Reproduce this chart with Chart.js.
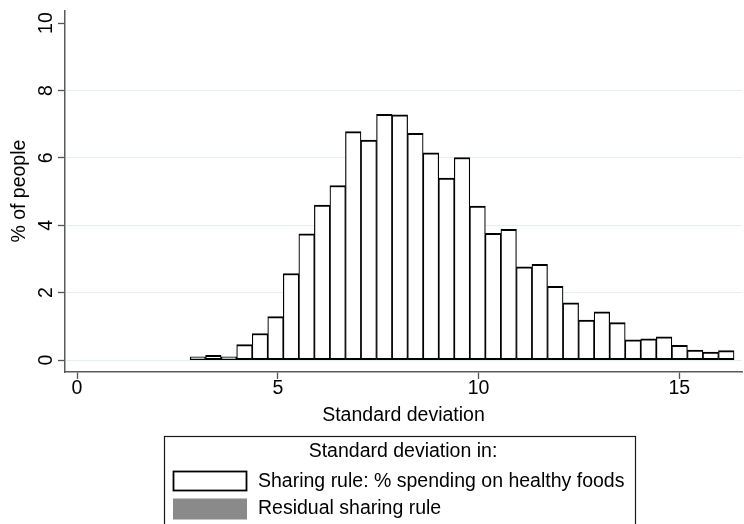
<!DOCTYPE html>
<html>
<head>
<meta charset="utf-8">
<script src="https://cdn.jsdelivr.net/npm/chart.js@4/dist/chart.umd.min.js"></script>
<style>
  html, body { margin: 0; padding: 0; background: #ffffff; }
  #chart { display: block; }
</style>
</head>
<body>
<canvas id="chart" width="744" height="524"></canvas>
<script>
// Histogram bins: centre of each bin (standard deviation)
const binCenters = [
  3.008, 3.395, 3.782, 4.169, 4.556, 4.943, 5.330, 5.717, 6.104, 6.491,
  6.878, 7.265, 7.652, 8.039, 8.426, 8.814, 9.201, 9.588, 9.975, 10.362,
  10.749, 11.136, 11.523, 11.910, 12.297, 12.684, 13.071, 13.458, 13.845, 14.232,
  14.620, 15.007, 15.394, 15.781, 16.168
];

// % of people in each bin: sharing rule (% spending on healthy foods)
const sharingRuleShare = [
  0.10, 0.14, 0.10, 0.46, 0.79, 1.29, 2.57, 3.75, 4.60, 5.18,
  6.78, 6.53, 7.29, 7.28, 6.73, 6.15, 5.40, 6.01, 4.57, 3.76,
  3.88, 2.77, 2.84, 2.19, 1.70, 1.19, 1.43, 1.11, 0.60, 0.63,
  0.69, 0.44, 0.30, 0.24, 0.28
];

// Residual sharing rule series (no bars drawn in this panel)
const residualShare = [];

const seriesLabels = ['Sharing rule: % spending on healthy foods', 'Residual sharing rule'];
const legendTitle = 'Standard deviation in:';

const xTicks = [0, 5, 10, 15];
const yTicks = [0, 2, 4, 6, 8, 10];

const FONT = '"Liberation Sans", Arial, Helvetica, sans-serif';

// Legend box drawn under the plot, Stata style
const legendPlugin = {
  id: 'boxLegend',
  afterDraw(chart) {
    const ctx = chart.ctx;
    const ds = chart.data.datasets;
    ctx.save();
    ctx.strokeStyle = '#1a1a1a';
    ctx.lineWidth = 1.2;
    ctx.strokeRect(164.5, 436.5, 471, 120);

    ctx.fillStyle = '#000';
    ctx.font = '19.5px ' + FONT;
    ctx.textBaseline = 'alphabetic';
    ctx.textAlign = 'center';
    ctx.fillText(legendTitle, 403, 457);

    const rows = [
      { y: 471, h: 20, base: 487 },
      { y: 498.5, h: 21, base: 514 }
    ];
    ds.forEach((d, i) => {
      const r = rows[i];
      ctx.fillStyle = d.backgroundColor;
      ctx.fillRect(173, r.y, 74, r.h);
      if (d.legendStroke) {
        ctx.strokeStyle = d.borderColor;
        ctx.lineWidth = 1.8;
        ctx.strokeRect(173.5, r.y + 0.5, 73, r.h - 1);
      }
      ctx.fillStyle = '#000';
      ctx.textAlign = 'left';
      ctx.fillText(d.label, 258, r.base);
    });
    ctx.restore();
  }
};

new Chart(document.getElementById('chart'), {
  type: 'bar',
  data: {
    datasets: [
      {
        label: seriesLabels[0],
        data: binCenters.map((x, i) => ({ x: x, y: sharingRuleShare[i] })),
        backgroundColor: '#ffffff',
        borderColor: '#000000',
        borderWidth: { top: 2, bottom: 2, left: 1.2, right: 1.2 },
        borderSkipped: false,
        barPercentage: 1,
        categoryPercentage: 1,
        legendStroke: true
      },
      {
        label: seriesLabels[1],
        data: residualShare,
        backgroundColor: '#8a8a8a',
        borderColor: '#8a8a8a',
        borderWidth: 0,
        barPercentage: 1,
        categoryPercentage: 1
      }
    ]
  },
  options: {
    responsive: false,
    animation: false,
    devicePixelRatio: 1,
    layout: { padding: { left: 0, right: 2, top: 7, bottom: 98 } },
    plugins: {
      legend: { display: false },
      tooltip: { enabled: false }
    },
    datasets: { bar: { grouped: false } },
    scales: {
      x: {
        type: 'linear',
        offset: false,
        min: -0.3,
        max: 16.56,
        afterBuildTicks: s => { s.ticks = xTicks.map(v => ({ value: v })); },
        afterFit: s => { s.height = 54; },
        grid: {
          offset: false,
          drawOnChartArea: false,
          drawTicks: true,
          tickLength: 7,
          tickColor: '#555555',
          tickWidth: 1.3
        },
        border: { display: true, color: '#5a5a5a', width: 1.5 },
        ticks: {
          padding: 0,
          color: '#000',
          font: { family: FONT, size: 19.5, lineHeight: 1 },
          maxRotation: 0,
          minRotation: 0
        },
        title: {
          display: true,
          text: 'Standard deviation',
          color: '#000',
          padding: { top: 0, bottom: 1 },
          font: { family: FONT, size: 19.5, lineHeight: 1 }
        }
      },
      y: {
        type: 'linear',
        min: -0.353,
        max: 10.38,
        afterBuildTicks: s => { s.ticks = yTicks.map(v => ({ value: v })); },
        afterFit: s => { s.width = 65; },
        grid: {
          color: c => (c.tick && c.tick.value === 10) ? 'rgba(0,0,0,0)' : '#e5eef1',
          lineWidth: 1,
          drawTicks: true,
          tickLength: 7,
          tickColor: '#555555',
          tickWidth: 1.3
        },
        border: { display: true, color: '#5a5a5a', width: 1.5 },
        ticks: {
          padding: 0.5,
          color: '#000',
          crossAlign: 'center',
          minRotation: 90,
          maxRotation: 90,
          font: { family: FONT, size: 19.5, lineHeight: 1 }
        },
        title: {
          display: true,
          text: '% of people',
          color: '#000',
          padding: { top: 10, bottom: 0 },
          font: { family: FONT, size: 19.5, lineHeight: 1 }
        }
      }
    }
  },
  plugins: [legendPlugin]
});
</script>
</body>
</html>
